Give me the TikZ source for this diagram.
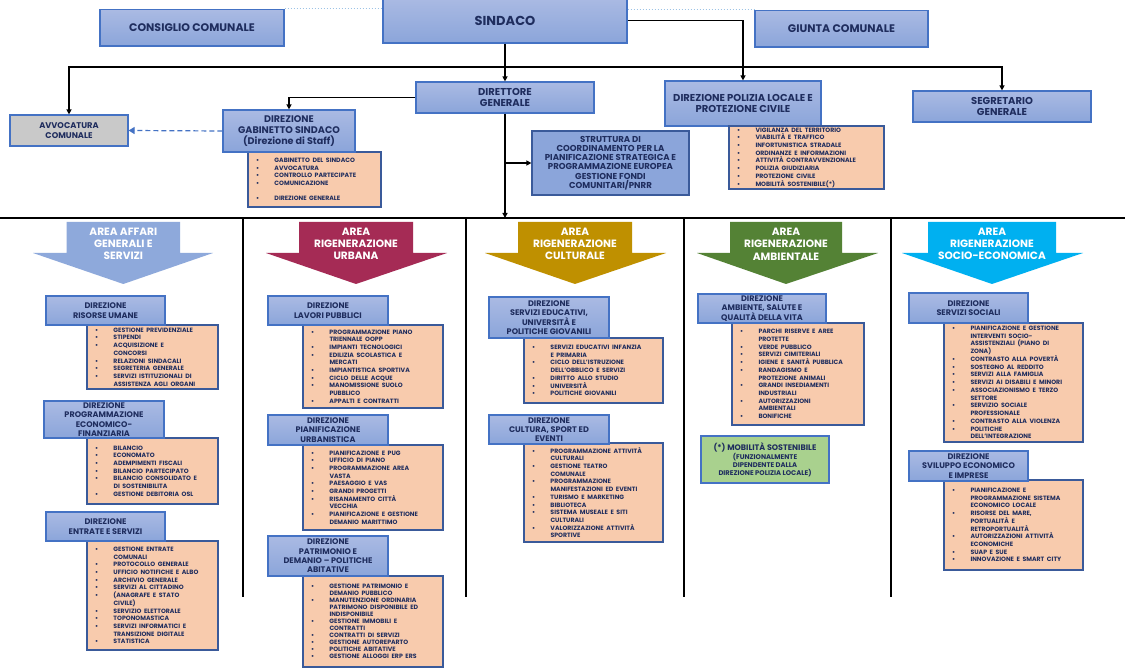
\documentclass[tikz,border=0pt]{standalone}
\usepackage{fontspec}
\setmainfont{Poppins}
\setlength{\parindent}{0pt}
\usetikzlibrary{arrows.meta}
\definecolor{txt}{HTML}{1F2D5E}
\definecolor{bt}{HTML}{AABAE3}
\definecolor{bb}{HTML}{8BA5DA}
\definecolor{bord}{HTML}{4472C4}
\definecolor{orf}{HTML}{F8CBAD}
\definecolor{lbord}{HTML}{3A5A9A}
\definecolor{grayf}{HTML}{C9C9C9}
\definecolor{greenf}{HTML}{A9D18E}
\definecolor{dotblue}{HTML}{9DC3E6}
\definecolor{dashblue}{HTML}{4472C4}
\definecolor{aOne}{HTML}{8EA9DB}
\definecolor{aTwo}{HTML}{A52B55}
\definecolor{aThree}{HTML}{BF9000}
\definecolor{aFour}{HTML}{548235}
\definecolor{aFive}{HTML}{00B0F0}
\newcommand\BX[7]{\pgfmathsetmacro\bxw{#4-#2}\pgfmathsetmacro\bxh{#5-#3}%
  \node[#6,minimum width=\bxw pt,minimum height=\bxh pt] (#1) at ({(#2+#4)/2},{(#3+#5)/2}) {#7};}
\newcommand\LST[7]{\pgfmathsetmacro\bxw{#4-#2}\pgfmathsetmacro\bxh{#5-#3}\pgfmathsetmacro\bxt{#4-#2-16}%
  \def\lsbs{#6}%
  \node[lbox,text width=\bxt pt,minimum width=\bxw pt,minimum height=\bxh pt] (#1) at ({(#2+#4)/2},{(#3+#5)/2}) {\fontsize{6.2}{\lsbs}\selectfont\bfseries\spaceskip=2.6pt\relax #7};}
\newcommand\LI[1]{\mbox{\makebox[18.5pt][l]{\textbullet}#1}\par}
\newcommand\LC[1]{\mbox{\hspace*{18.5pt}#1}\par}
\newcommand\LB{\mbox{}\par}
\newcommand\AREA[8]{% name, colour, shaftL, shaftR, wingL, wingR, tipx, text
  \fill[#2] (#3,222) -- (#4,222) -- (#4,253) -- (#6,253) -- (#7,284) -- (#5,253) -- (#3,253) -- cycle;
  \node[areatext] (#1) at ({(#3+#4)/2},244) {#8};}
\tikzset{
  topbox/.style={draw=bord,line width=1.2pt,top color=bt,bottom color=bb,text=txt,align=center,inner sep=1pt,font=\fontsize{11}{13}\selectfont\bfseries},
  midbox/.style={draw=bord,line width=1.2pt,top color=bt,bottom color=bb,text=txt,align=center,inner sep=1pt,font=\fontsize{10}{10.4}\selectfont\bfseries},
  dbox/.style={draw=bord,line width=1.2pt,top color=bt,bottom color=bb,text=txt,align=center,inner sep=1pt,font=\fontsize{8.1}{9.3}\selectfont\bfseries},
  strbox/.style={draw=lbord,line width=1.2pt,fill=bb,text=txt,align=center,inner sep=1pt,font=\fontsize{8.6}{9.3}\selectfont\bfseries},
  graybox/.style={draw=bord,line width=1.2pt,fill=grayf,text=txt,align=center,inner sep=1pt,font=\fontsize{8.3}{9.4}\selectfont\bfseries},
  greenbox/.style={draw=bord,line width=1.2pt,fill=greenf,text=txt,align=center,inner sep=1pt,font=\fontsize{6.8}{8}\selectfont\bfseries},
  lbox/.style={draw=lbord,line width=1.1pt,fill=orf,text=txt,align=left,inner xsep=8pt,inner ysep=0pt},
  areatext/.style={text=white,align=center,inner sep=0pt,font=\fontsize{10.6}{12.3}\selectfont\bfseries},
  conn/.style={draw=black,line width=1.3pt,-{Triangle[length=5pt,width=5pt]}},
  sepline/.style={draw=black,line width=1.4pt},
}
\begin{document}
\begin{tikzpicture}[x=1pt,y=-1pt]
\fill[white] (0,0) rectangle (1125,668);
\useasboundingbox (0,0) rectangle (1125,668);

% separators
\draw[sepline] (0,218) -- (1125,218);
\foreach \xx in {243,466,684,891} \draw[sepline] (\xx,218) -- (\xx,597);

% top level
\BX{cons}{100}{9.5}{284}{46}{topbox}{CONSIGLIO COMUNALE}
\BX{sind}{383}{-2}{627}{43}{topbox,font=\fontsize{13}{15}\selectfont\bfseries}{SINDACO}
\BX{giun}{755}{10.5}{928}{47}{topbox}{GIUNTA COMUNALE}
\BX{dir}{416}{82}{594}{113}{midbox}{DIRETTORE\\GENERALE}
\BX{pol}{665}{81}{821}{126}{midbox}{DIREZIONE POLIZIA LOCALE E\\PROTEZIONE CIVILE}
\BX{seg}{913}{91}{1091}{122}{midbox}{SEGRETARIO\\GENERALE}
\LST{gabl}{248}{152}{381}{207}{7.6}{\LI{GABINETTO DEL SINDACO}\LI{AVVOCATURA}\LI{CONTROLLO PARTECIPATE}\LI{COMUNICAZIONE}\LB\LI{DIREZIONE GENERALE}}
\BX{gab}{223}{110}{355}{152}{midbox,font=\fontsize{9.6}{10.7}\selectfont\bfseries}{DIREZIONE\\GABINETTO SINDACO\\(Direzione di Staff)}
\BX{avv}{10}{115}{128}{146}{graybox}{AVVOCATURA\\COMUNALE}
\BX{str}{532}{131}{689}{195}{strbox}{STRUTTURA DI\\COORDINAMENTO PER LA\\PIANIFICAZIONE STRATEGICA E\\PROGRAMMAZIONE EUROPEA\\GESTIONE FONDI\\COMUNITARI/PNRR}
\LST{poll}{729}{126}{884}{189}{7.7}{\LI{VIGILANZA DEL TERRITORIO}\LI{VIABILITÀ E TRAFFICO}\LI{INFORTUNISTICA STRADALE}\LI{ORDINANZE E INFORMAZIONI}\LI{ATTIVITÀ CONTRAVVENZIONALE}\LI{POLIZIA GIUDIZIARIA}\LI{PROTEZIONE CIVILE}\LI{MOBILITÀ SOSTENIBILE(*)}}

% connectors
\coordinate (j1) at (505,67);
\coordinate (areatop) at (505,218);
\draw[conn] (sind.south) -- (dir.north);
\draw[conn] (j1) -| (avv.north);
\draw[conn] (j1) -| (seg.north);
\draw[conn] (sind.east) -| (pol.north);
\draw[conn] (dir.west) -| (gab.north);
\draw[conn] (dir.south) -- (areatop);
\draw[conn] (dir.south |- str.west) -- (str.west);
\draw[draw=dashblue,line width=1.2pt,dash pattern=on 5pt off 3pt,-{Triangle[length=6pt,width=7pt]}] (gab.west) -- (avv.east);
\draw[dotted,draw=dotblue,line width=1pt] (cons.north east) -- (cons.north east -| sind.west);
\draw[dotted,draw=dotblue,line width=1pt] (sind.east |- giun.north west) -- (giun.north west);

% area arrows
\AREA{aaff}{aOne}{66.7}{180}{33}{213}{123.3}{AREA AFFARI\\GENERALI E\\SERVIZI}
\AREA{aurb}{aTwo}{299}{413}{266}{447}{356}{AREA\\RIGENERAZIONE\\URBANA}
\AREA{acul}{aThree}{518}{632}{485}{666}{575}{AREA\\RIGENERAZIONE\\CULTURALE}
\AREA{aamb}{aFour}{730}{842}{697}{878}{786}{AREA\\RIGENERAZIONE\\AMBIENTALE}
\AREA{asoc}{aFive}{928}{1056}{902}{1083}{992}{AREA\\RIGENERAZIONE\\SOCIO-ECONOMICA}

% column 1
\LST{rul}{87}{325}{218}{389}{7.7}{\LI{GESTIONE PREVIDENZIALE}\LI{STIPENDI}\LI{ACQUISIZIONE E}\LC{CONCORSI}\LI{RELAZIONI SINDACALI}\LI{SEGRETERIA GENERALE}\LI{SERVIZI ISTITUZIONALI DI}\LC{ASSISTENZA AGLI ORGANI}}
\BX{ru}{46}{296}{165}{325}{dbox}{DIREZIONE\\RISORSE UMANE}
\LST{pefl}{87}{438}{218}{504}{7.7}{\LI{BILANCIO}\LI{ECONOMATO}\LI{ADEMPIMENTI FISCALI}\LI{BILANCIO PARTECIPATO}\LI{BILANCIO CONSOLIDATO E}\LC{DI SOSTENIBILITA}\LI{GESTIONE DEBITORIA OSL}}
\BX{pef}{44}{401}{164}{438}{dbox}{DIREZIONE\\PROGRAMMAZIONE\\ECONOMICO-\\FINANZIARIA}
\LST{entl}{87}{541}{218}{650}{7.7}{\LI{GESTIONE ENTRATE}\LC{COMUNALI}\LI{PROTOCOLLO GENERALE}\LI{UFFICIO NOTIFICHE E ALBO}\LI{ARCHIVIO GENERALE}\LI{SERVIZI AL CITTADINO}\LI{(ANAGRAFE E STATO}\LC{CIVILE)}\LI{SERVIZIO ELETTORALE}\LI{TOPONOMASTICA}\LI{SERVIZI INFORMATICI E}\LC{TRANSIZIONE DIGITALE}\LI{STATISTICA}}
\BX{ent}{46}{512}{165}{541}{dbox}{DIREZIONE\\ENTRATE E SERVIZI}

% column 2
\LST{lpl}{303}{325}{443}{408}{7.7}{\LI{PROGRAMMAZIONE PIANO}\LC{TRIENNALE OOPP}\LI{IMPIANTI TECNOLOGICI}\LI{EDILIZIA SCOLASTICA E}\LC{MERCATI}\LI{IMPIANTISTICA SPORTIVA}\LI{CICLO DELLE ACQUE}\LI{MANOMISSIONE SUOLO}\LC{PUBBLICO}\LI{APPALTI E CONTRATTI}}
\BX{lp}{268}{296}{388}{325}{dbox}{DIREZIONE\\LAVORI PUBBLICI}
\LST{pul}{303}{445}{443}{530}{7.7}{\LI{PIANIFICAZIONE E PUG}\LI{UFFICIO DI PIANO}\LI{PROGRAMMAZIONE AREA}\LC{VASTA}\LI{PAESAGGIO E VAS}\LI{GRANDI PROGETTI}\LI{RISANAMENTO CITTÀ}\LC{VECCHIA}\LI{PIANIFICAZIONE E GESTIONE}\LC{DEMANIO MARITTIMO}}
\BX{pu}{268}{415}{388}{445}{dbox}{DIREZIONE\\PIANIFICAZIONE\\URBANISTICA}
\LST{patl}{303}{576}{443}{667}{7.05}{\LI{GESTIONE PATRIMONIO E}\LC{DEMANIO PUBBLICO}\LI{MANUTENZIONE ORDINARIA}\LC{PATRIMONO DISPONIBILE ED}\LC{INDISPONIBILE}\LI{GESTIONE IMMOBILI E}\LC{CONTRATTI}\LI{CONTRATTI DI SERVIZI}\LI{GESTIONE AUTOREPARTO}\LI{POLITICHE ABITATIVE}\LI{GESTIONE ALLOGGI ERP ERS}}
\BX{pat}{268}{536}{388}{576}{dbox}{DIREZIONE\\PATRIMONIO E\\DEMANIO – POLITICHE\\ABITATIVE}

% column 3
\LST{sel}{524}{338}{663}{403}{7.7}{\LI{SERVIZI EDUCATIVI INFANZIA}\LC{E PRIMARIA}\LI{CICLO DELL’ISTRUZIONE}\LC{DELL’OBBLICO E SERVIZI}\LI{DIRITTO ALLO STUDIO}\LI{UNIVERSITÀ}\LI{POLITICHE GIOVANILI}}
\BX{se}{489}{297}{609}{338}{dbox}{DIREZIONE\\SERVIZI EDUCATIVI,\\UNIVERSITÀ E\\POLITICHE GIOVANILI}
\LST{cul}{524}{443}{663}{542}{7.7}{\LI{PROGRAMMAZIONE ATTIVITÀ}\LC{CULTURALI}\LI{GESTIONE TEATRO}\LC{COMUNALE}\LI{PROGRAMMAZIONE}\LC{MANIFESTAZIONI ED EVENTI}\LI{TURISMO E MARKETING}\LI{BIBLIOTECA}\LI{SISTEMA MUSEALE E SITI}\LC{CULTURALI}\LI{VALORIZZAZIONE ATTIVITÀ}\LC{SPORTIVE}}
\BX{cu}{489}{415}{609}{444}{dbox}{DIREZIONE\\CULTURA, SPORT ED\\EVENTI}

% column 4
\LST{aml}{732}{323}{864}{425}{7.7}{\LI{PARCHI RISERVE E AREE}\LC{PROTETTE}\LI{VERDE PUBBLICO}\LI{SERVIZI CIMITERIALI}\LI{IGIENE E SANITÀ PUBBLICA}\LI{RANDAGISMO E}\LC{PROTEZIONE ANIMALI}\LI{GRANDI INSEDIAMENTI}\LC{INDUSTRIALI}\LI{AUTORIZZAZIONI}\LC{AMBIENTALI}\LI{BONIFICHE}}
\BX{am}{698}{294}{826}{323}{dbox}{DIREZIONE\\AMBIENTE, SALUTE E\\QUALITÀ DELLA VITA}
\BX{mob}{701}{436}{829}{483}{greenbox}{{\fontsize{8}{9}\selectfont (*) MOBILITÀ SOSTENIBILE}\\[1pt](FUNZIONALMENTE\\DIPENDENTE DALLA\\DIREZIONE POLIZIA LOCALE)}

% column 5
\LST{ssl}{944}{323}{1083}{442}{7.74}{\LI{PIANIFICAZIONE E GESTIONE}\LC{INTERVENTI SOCIO-}\LC{ASSISTENZIALI (PIANO DI}\LC{ZONA)}\LI{CONTRASTO ALLA POVERTÀ}\LI{SOSTEGNO AL REDDITO}\LI{SERVIZI ALLA FAMIGLIA}\LI{SERVIZI AI DISABILI E MINORI}\LI{ASSOCIAZIONISMO E TERZO}\LC{SETTORE}\LI{SERVIZIO SOCIALE}\LC{PROFESSIONALE}\LI{CONTRASTO ALLA VIOLENZA}\LI{POLITICHE}\LC{DELL’INTEGRAZIONE}}
\BX{ss}{909}{293}{1028}{323}{dbox}{DIREZIONE\\SERVIZI SOCIALI}
\LST{svl}{944}{480}{1083}{570}{7.7}{\LI{PIANIFICAZIONE E}\LC{PROGRAMMAZIONE SISTEMA}\LC{ECONOMICO LOCALE}\LI{RISORSE DEL MARE,}\LC{PORTUALITÀ E}\LC{RETROPORTUALITÀ}\LI{AUTORIZZAZIONI ATTIVITÀ}\LC{ECONOMICHE}\LI{SUAP E SUE}\LI{INNOVAZIONE E SMART CITY}}
\BX{sv}{909}{451}{1028}{481}{dbox}{DIREZIONE\\SVILUPPO ECONOMICO\\E IMPRESE}
\end{tikzpicture}
\end{document}
